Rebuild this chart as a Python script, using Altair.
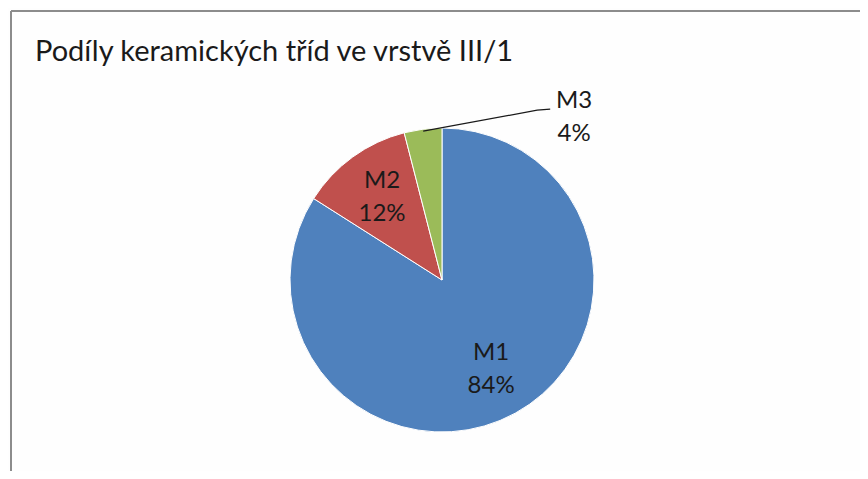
import altair as alt
import numpy as np
import pandas as pd

# ---- data ----
categories = ["M1", "M2", "M3"]
values = [84, 12, 4]
pct_labels = ["84%", "12%", "4%"]
colors = ["#4F81BD", "#C0504D", "#9BBB59"]
title_text = "Podíly keramických tříd ve vrstvě III/1"

# ---- style constants ----
W, H = 852, 463
CX, CY = 434, 272          # pie centre (chart coords)
R = 152                    # pie radius
R_IN = 102                 # radius of inside labels
FONT = "Lato"
FS = 24
TXT = "#1A1A1A"

total = float(sum(values))
cum = np.cumsum(values)
mid = (cum - np.array(values) / 2.0) / total * 2 * np.pi

df = pd.DataFrame({
    "cat": categories,
    "value": values,
    "order": list(range(len(categories))),
    "pct": pct_labels,
    "mid": mid,
})

# label anchor positions: inside for M1, M2; outside with leader line for M3
lx = list(CX + R_IN * np.sin(mid[:2]))
ly = list(CY - R_IN * np.cos(mid[:2]))
ex = CX + (R - 2) * np.sin(mid[2])
ey = CY - (R - 2) * np.cos(mid[2])
elbow = (ex + 114, ey - 21)
end = (elbow[0] + 13, elbow[1] - 1)
lx.append(end[0] + 24)
ly.append(end[1] + 8)
df["lx"] = lx
df["ly"] = ly

leader = pd.DataFrame({
    "px": [ex, elbow[0], end[0]],
    "py": [ey, elbow[1], end[1]],
    "k": [0, 1, 2],
})

pie = alt.Chart(df).mark_arc(outerRadius=R, stroke="white", strokeWidth=1).encode(
    theta=alt.Theta("value:Q", stack=True),
    color=alt.Color("cat:N", scale=alt.Scale(domain=categories, range=colors), legend=None),
    order=alt.Order("order:Q"),
    x=alt.value(CX),
    y=alt.value(CY),
)

def text_layer(field, dy):
    return alt.Chart(df).mark_text(
        font=FONT, fontSize=FS, color=TXT, align="center", baseline="middle", dy=dy,
    ).encode(
        x=alt.X("lx:Q", scale=None),
        y=alt.Y("ly:Q", scale=None),
        text=f"{field}:N",
    )

names = text_layer("cat", -16)
pcts = text_layer("pct", 17)

leader_line = alt.Chart(leader).mark_line(color="#1A1A1A", strokeWidth=1.2).encode(
    x=alt.X("px:Q", scale=None),
    y=alt.Y("py:Q", scale=None),
    order="k:Q",
)

frame = pd.DataFrame({"a": [0]})
left_border = alt.Chart(frame).mark_rule(color="#8C8C8C", strokeWidth=2).encode(
    x=alt.value(3), y=alt.value(3), y2=alt.value(H + 20)
)
top_border = alt.Chart(frame).mark_rule(color="#8C8C8C", strokeWidth=2).encode(
    y=alt.value(3), x=alt.value(3), x2=alt.value(W + 20)
)

chart = alt.layer(
    pie, leader_line, names, pcts, left_border, top_border
).properties(
    width=W,
    height=H,
    autosize=alt.AutoSizeParams(type="none"),
    padding=0,
    title=alt.TitleParams(
        title_text, anchor="start", orient="top", font=FONT, fontSize=29,
        fontWeight="normal", color=TXT, dx=27, dy=82, baseline="alphabetic",
        offset=0,
    ),
    background="#FEFEFE",
).configure_view(stroke=None)

chart.save("out.html", embed_options={"renderer": "svg", "actions": False})
